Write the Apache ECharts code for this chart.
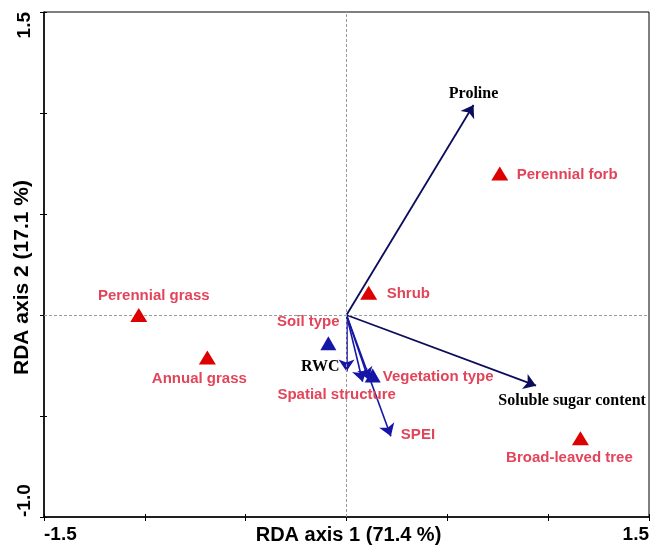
<!DOCTYPE html>
<html>
<head>
<meta charset="utf-8">
<script src="https://cdn.jsdelivr.net/npm/echarts@6/dist/echarts.min.js"></script>
<style>
  html, body { margin: 0; padding: 0; background: #ffffff; }
  #chart { width: 650px; height: 548px; }
</style>
</head>
<body>
<div id="chart"></div>
<script>
// Species scores (red triangles)
const speciesNames = ['Perennial grass', 'Annual grass', 'Shrub', 'Perennial forb', 'Broad-leaved tree'];
const speciesX = [-1.03, -0.69, 0.11, 0.76, 1.16];
const speciesY = [0.00, -0.21, 0.11, 0.70, -0.61];

// Centroids of nominal variables (blue triangles)
const centroidNames = ['Soil type', 'Vegetation type'];
const centroidX = [-0.09, 0.13];
const centroidY = [-0.14, -0.30];

// Physiological variables (dark navy arrows)
const traitNames = ['Proline', 'Soluble sugar content'];
const traitX = [0.63, 0.94];
const traitY = [1.04, -0.35];

// Environmental variables (blue arrows)
const envNames = ['RWC', 'Spatial structure', '', 'SPEI'];
const envX = [0.00, 0.08, 0.11, 0.22];
const envY = [-0.28, -0.33, -0.32, -0.60];

// Tick labels (only the ends are printed)
const xTickLabels = ['-1.5', '', '', '', '', '', '1.5'];
const yTickLabels = ['-1.0', '', '', '', '', '1.5'];

// Where each text sits relative to its mark
const labelPlace = {
  'Perennial grass':       { offset: [15, -19], align: 'center' },
  'Annual grass':          { offset: [-8, 21],  align: 'center' },
  'Shrub':                 { offset: [18, 1],   align: 'left' },
  'Perennial forb':        { offset: [17, 1],   align: 'left' },
  'Broad-leaved tree':     { offset: [-11, 20], align: 'center' },
  'Soil type':             { offset: [-20, -21], align: 'center' },
  'Vegetation type':       { offset: [10, 1],   align: 'left' },
  'Proline':               { offset: [0, -11],  align: 'center' },
  'Soluble sugar content': { offset: [36, 15],  align: 'center' },
  'RWC':                   { offset: [-7, -5],  align: 'right' },
  'Spatial structure':     { offset: [-26, 13], align: 'center' },
  'SPEI':                  { offset: [10, -1],  align: 'left' }
};

const RED_TEXT = '#e2455a';
const RED_MARK = '#dd0000';
const BLUE = '#1616a6';
const NAVY = '#0c0c5e';

const sansLabel = { fontFamily: 'Liberation Sans, Arial, sans-serif', fontWeight: 'bold', fontSize: 15, color: RED_TEXT };
const serifLabel = { fontFamily: 'Liberation Serif, Times New Roman, serif', fontWeight: 'bold', fontSize: 16, color: '#000000' };

function pointItems(names, xs, ys, textStyle) {
  return names.map((n, i) => {
    const p = labelPlace[n];
    return {
      name: n,
      value: [xs[i], ys[i]],
      label: p ? Object.assign({
        show: true,
        position: 'inside',
        formatter: '{b}',
        offset: p.offset,
        align: p.align,
        verticalAlign: 'middle'
      }, textStyle) : { show: false }
    };
  });
}

function arrowItems(names, xs, ys) {
  return names.map((n, i) => ({ name: n, coords: [[0, 0], [xs[i], ys[i]]] }));
}

const tickLabelStyle = {
  fontFamily: 'Liberation Sans, Arial, sans-serif',
  fontWeight: 'bold',
  fontSize: 19,
  color: '#000000'
};

const chart = echarts.init(document.getElementById('chart'), null, { renderer: 'canvas' });

chart.setOption({
  animation: false,
  backgroundColor: '#ffffff',
  grid: {
    left: 44, top: 12, width: 605, height: 505,
    containLabel: false, outerBoundsMode: 'none',
    show: true, borderColor: '#000000', borderWidth: 1, backgroundColor: 'transparent'
  },
  xAxis: [{
    type: 'value', min: -1.5, max: 1.5, interval: 0.5,
    position: 'bottom',
    axisLine: { show: true, onZero: false, lineStyle: { color: '#000000', width: 1.5 } },
    axisTick: { show: true, length: 4, lineStyle: { color: '#000000', width: 1 } },
    axisLabel: {
      show: true, margin: 8,
      formatter: (v, i) => xTickLabels[i] || '',
      alignMinLabel: 'left', alignMaxLabel: 'right',
      ...tickLabelStyle
    },
    splitLine: { show: false },
    name: 'RDA axis 1 (71.4 %)', nameLocation: 'middle', nameGap: 8, nameMoveOverlap: false,
    nameTextStyle: { ...tickLabelStyle, fontSize: 20, verticalAlign: 'top', padding: [0, 0, 0, 4] }
  }, {
    type: 'value', min: -1.5, max: 1.5, interval: 0.5,
    position: 'bottom',
    axisLine: { show: false, onZero: false },
    axisTick: { show: true, inside: true, length: 3, lineStyle: { color: '#000000', width: 1 } },
    axisLabel: { show: false },
    splitLine: { show: false }
  }],
  yAxis: [{
    type: 'value', min: -1.0, max: 1.5, interval: 0.5,
    position: 'left',
    axisLine: { show: true, onZero: false, lineStyle: { color: '#000000', width: 1.5 } },
    axisTick: { show: true, length: 4, lineStyle: { color: '#000000', width: 1 } },
    axisLabel: {
      show: true, margin: 10, rotate: 90,
      formatter: (v, i) => yTickLabels[i] || '',
      alignMinLabel: 'left', alignMaxLabel: 'right',
      ...tickLabelStyle
    },
    splitLine: { show: false },
    name: 'RDA axis 2 (17.1 %)', nameLocation: 'middle', nameGap: 11, nameRotate: 90, nameMoveOverlap: false,
    nameTextStyle: { ...tickLabelStyle, fontSize: 21, padding: [0, 26, 0, 0] }
  }, {
    type: 'value', min: -1.0, max: 1.5, interval: 0.5,
    position: 'left',
    axisLine: { show: false, onZero: false },
    axisTick: { show: true, inside: true, length: 3, lineStyle: { color: '#000000', width: 1 } },
    axisLabel: { show: false },
    splitLine: { show: false }
  }],
  series: [
    {
      // zero reference lines
      type: 'scatter', data: [], silent: true,
      markLine: {
        silent: true, symbol: 'none', animation: false,
        label: { show: false },
        lineStyle: { color: '#9a9a9a', width: 1, type: [3, 2] },
        data: [{ xAxis: 0 }, { yAxis: 0 }]
      }
    },
    {
      type: 'lines', coordinateSystem: 'cartesian2d', silent: true,
      symbol: ['none', 'arrow'], symbolSize: 12,
      lineStyle: { color: NAVY, width: 1.8, opacity: 1, curveness: 0 },
      data: arrowItems(traitNames, traitX, traitY)
    },
    {
      type: 'lines', coordinateSystem: 'cartesian2d', silent: true,
      symbol: ['none', 'arrow'], symbolSize: 12,
      lineStyle: { color: BLUE, width: 1.6, opacity: 1, curveness: 0 },
      data: arrowItems(envNames, envX, envY)
    },
    {
      // text at arrow tips
      type: 'scatter', silent: true, symbolSize: 1,
      itemStyle: { color: 'rgba(0,0,0,0)', opacity: 1 },
      data: pointItems(traitNames, traitX, traitY, serifLabel)
        .concat(pointItems(['RWC'], [envX[0]], [envY[0]], serifLabel))
        .concat(pointItems(['Spatial structure', 'SPEI'], [envX[1], envX[3]], [envY[1], envY[3]], sansLabel)),
      z: 5
    },
    {
      type: 'scatter', silent: true, symbol: 'triangle', symbolSize: [16, 14],
      itemStyle: { color: BLUE, opacity: 1 },
      data: pointItems(centroidNames, centroidX, centroidY, sansLabel),
      z: 6
    },
    {
      type: 'scatter', silent: true, symbol: 'triangle', symbolSize: [17, 14],
      itemStyle: { color: RED_MARK, opacity: 1 },
      data: pointItems(speciesNames, speciesX, speciesY, sansLabel),
      z: 6
    }
  ]
});
</script>
</body>
</html>
